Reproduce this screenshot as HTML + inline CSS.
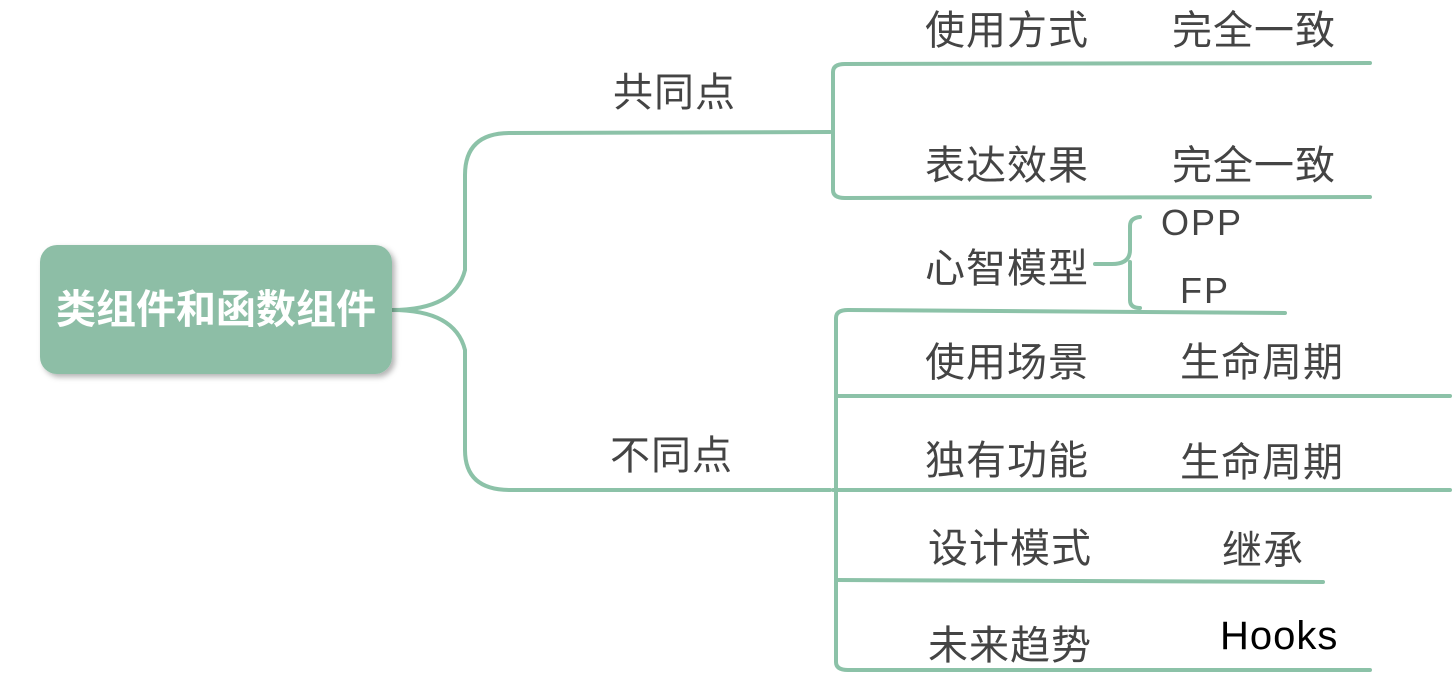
<!DOCTYPE html>
<html><head><meta charset="utf-8"><style>
html,body{margin:0;padding:0;background:#fff;width:1456px;height:676px;overflow:hidden}
svg{display:block}
text{font-family:"Liberation Sans","Noto Sans CJK SC",sans-serif;fill:#444}
</style></head><body>
<svg width="1456" height="676" viewBox="0 0 1456 676" xmlns="http://www.w3.org/2000/svg">
<defs><filter id="sh" x="-10%" y="-10%" width="130%" height="130%"><feDropShadow dx="3" dy="3" stdDeviation="3" flood-color="#000" flood-opacity="0.3"/></filter></defs>
<g fill="none" stroke="#8cc2a8" stroke-width="4" stroke-linecap="round">
<path d="M392 310 Q455 310 465 270 L465 175 Q465 133 510 133 L830 132"/>
<path d="M392 310 Q455 310 465 350 L465 450 Q465 490 510 490 L830 490"/>
<path d="M833 132 L833 72 Q833 64 845 64 L1370 63"/>
<path d="M833 132 L833 190 Q833 198 845 198 L1370 197"/>
<path d="M836 490 L836 318 Q836 310 848 310 L1285 313"/>
<path d="M836 396 L1450 396"/>
<path d="M833 490 L1450 490"/>
<path d="M836 580 L1323 582"/>
<path d="M836 490 L836 662 Q836 670 848 670 L1370 670"/>
<path d="M1095 264 L1112 264 Q1130 264 1130 250 L1130 226 Q1130 218 1140 217"/>
<path d="M1130 262 L1130 300 Q1130 308 1140 308"/>
</g>
<rect x="40" y="245" width="352" height="129" rx="17" fill="#8dbea6" filter="url(#sh)"/>
<text x="216" y="323" text-anchor="middle" font-size="40" style="fill:#fff;font-weight:bold">类组件和函数组件</text>
<g font-size="40" letter-spacing="1">
<text x="613" y="106">共同点</text>
<text x="610" y="469">不同点</text>
<text x="925" y="44">使用方式</text>
<text x="1172" y="44">完全一致</text>
<text x="925" y="179">表达效果</text>
<text x="1172" y="179">完全一致</text>
<text x="925" y="282">心智模型</text>
<text x="925" y="376">使用场景</text>
<text x="1180" y="376">生命周期</text>
<text x="925" y="474">独有功能</text>
<text x="1180" y="476">生命周期</text>
<text x="928" y="562">设计模式</text>
<text x="1222" y="564">继承</text>
<text x="928" y="659">未来趋势</text>
</g>
<text x="1161" y="235" font-size="36" letter-spacing="2">OPP</text>
<text x="1180" y="303" font-size="36" letter-spacing="2">FP</text>
<text x="1220" y="649" font-size="40" letter-spacing="1" style="fill:#000">Hooks</text>
</svg>
</body></html>
